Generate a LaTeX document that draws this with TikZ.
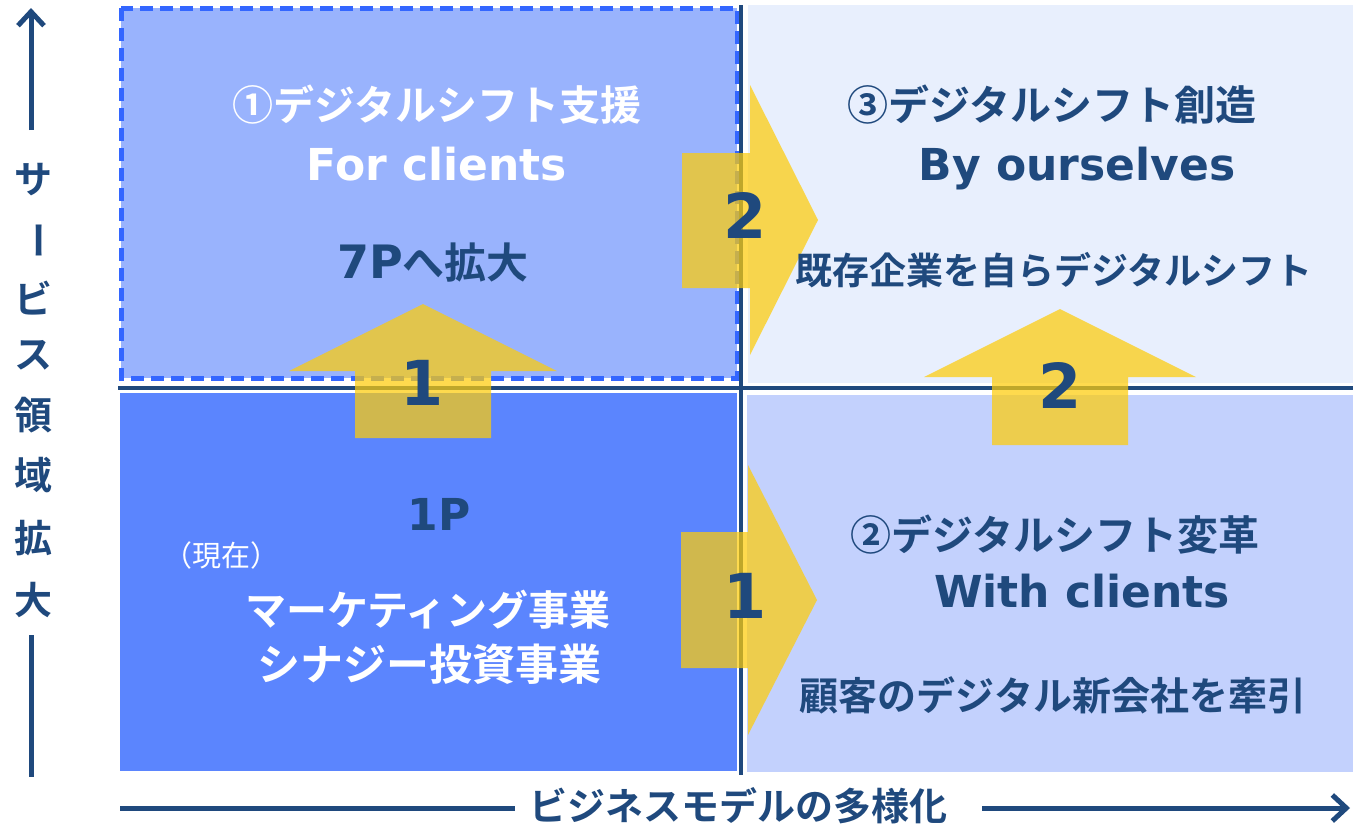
\documentclass[tikz,border=0pt]{standalone}
\usepackage{fontspec}
\newfontfamily\jpb{Noto Sans CJK JP Bold}
\newfontfamily\jpr{Noto Sans CJK JP}
\newfontfamily\dvb{DejaVu Sans Bold}
\usetikzlibrary{arrows.meta}
\definecolor{navy}{RGB}{31,73,125}
\definecolor{qTL}{RGB}{153,179,253}
\definecolor{qBL}{RGB}{91,133,254}
\definecolor{qTR}{RGB}{232,239,253}
\definecolor{qBR}{RGB}{195,209,253}
\definecolor{dashblue}{RGB}{51,102,255}
\definecolor{gold}{RGB}{254,204,10}
\tikzset{
  jt/.style={inner sep=0pt, font=\jpb\fontsize{41}{44}\selectfont},
  lt/.style={inner sep=0pt, font=\dvb\fontsize{44}{48}\selectfont, anchor=base},
  num/.style={inner sep=0pt, text=navy, font=\dvb\fontsize{62}{66}\selectfont},
  yarrow/.style={fill=gold, fill opacity=0.72},
  axisline/.style={draw=navy, line width=5pt},
  divline/.style={draw=navy, line width=3.5pt},
  ax/.style={inner sep=0pt, text=navy, font=\jpb\fontsize{38}{40}\selectfont},
}
\begin{document}
\begin{tikzpicture}[x=1pt,y=-1pt]
\useasboundingbox (0,0) rectangle (1353,828);
% quadrants
\fill[qTL] (121,8) rectangle (737,378);
\fill[qBL] (120,393) rectangle (737,771);
\fill[qTR] (748,5) rectangle (1353,383);
\fill[qBR] (747,395) rectangle (1353,772);
\draw[dashblue, line width=5pt, dash pattern=on 13pt off 7pt] (121,8) rectangle (737,378);
% dividing lines
\draw[divline] (118,388) -- (1353,388);
\draw[divline] (741,5) -- (741,775);
% yellow arrows
\fill[yarrow] (355,438) -- (355,371) -- (289,371) -- (423,304) -- (557,371) -- (491,371) -- (491,438) -- cycle;
\fill[yarrow] (682,153) -- (750,153) -- (750,85) -- (818,220) -- (750,355) -- (750,288) -- (682,288) -- cycle;
\fill[yarrow] (681,532) -- (748,532) -- (748,465) -- (817,600) -- (748,735) -- (748,668) -- (681,668) -- cycle;
\fill[yarrow] (992,445) -- (992,377) -- (924,377) -- (1060,309) -- (1196,377) -- (1128,377) -- (1128,445) -- cycle;
% numbers
\node[num] (n1a) at (422,383) {1};
\node[num] (n2a) at (745,215) {2};
\node[num] (n1b) at (745,596) {1};
\node[num] (n2b) at (1060,385) {2};
% top-left texts
\node[jt, text=white] (t1) at (437,105) {①デジタルシフト支援};
\node[lt, text=white] (t1e) at (437,180) {For clients};
\node[inner sep=0pt, text=navy, anchor=base] (t1s) at (433,278) {\dvb\fontsize{46}{48}\selectfont 7P\jpb\fontsize{42}{44}\selectfont へ拡大};
% top-right texts
\node[jt, text=navy] (t3) at (1052,105) {③デジタルシフト創造};
\node[lt, text=navy] (t3e) at (1077,180) {By ourselves};
\node[jt, text=navy, font=\jpb\fontsize{37}{40}\selectfont] (t3s) at (1054,270) {既存企業を自らデジタルシフト};
% bottom-left texts
\node[lt, text=navy] (t0) at (439,530) {1P};
\node[inner sep=0pt, text=white, font=\jpr\fontsize{29}{32}\selectfont] (t0n) at (221,555) {（現在）};
\node[jt, text=white] (t0a) at (428,610) {マーケティング事業};
\node[jt, text=white, font=\jpb\fontsize{43}{46}\selectfont] (t0b) at (429,664) {シナジー投資事業};
% bottom-right texts
\node[jt, text=navy] (t2) at (1055,535) {②デジタルシフト変革};
\node[lt, text=navy] (t2e) at (1082,607) {With clients};
\node[jt, text=navy, font=\jpb\fontsize{39}{42}\selectfont] (t2s) at (1053,695) {顧客のデジタル新会社を牽引};
% vertical axis
\coordinate (vtop) at (31,8);
\coordinate (vup) at (31,130);
\coordinate (vlo) at (31,635);
\coordinate (vbot) at (31,777);
\draw[axisline, -{Straight Barb[length=14pt, width=26pt, line width=5pt]}] (vup) -- (vtop);
\draw[axisline] (vlo) -- (vbot);
\node[ax] (a1) at (33,180) {サ};
\node[ax, rotate=-90] (a2) at (33,240) {ー};
\node[ax] (a3) at (33,298) {ビ};
\node[ax] (a4) at (33,355) {ス};
\node[ax] (a5) at (33,415) {領};
\node[ax] (a6) at (33,475) {域};
\node[ax] (a7) at (33,538) {拡};
\node[ax] (a8) at (33,600) {大};
% horizontal axis
\coordinate (hl) at (120,808);
\coordinate (hm) at (515,808);
\coordinate (hn) at (982,808);
\coordinate (hr) at (1350,808);
\draw[axisline] (hl) -- (hm);
\draw[axisline, -{Straight Barb[length=14pt, width=26pt, line width=5pt]}] (hn) -- (hr);
\node[ax] (ha) at (738,806) {ビジネスモデルの多様化};
\end{tikzpicture}
\end{document}
